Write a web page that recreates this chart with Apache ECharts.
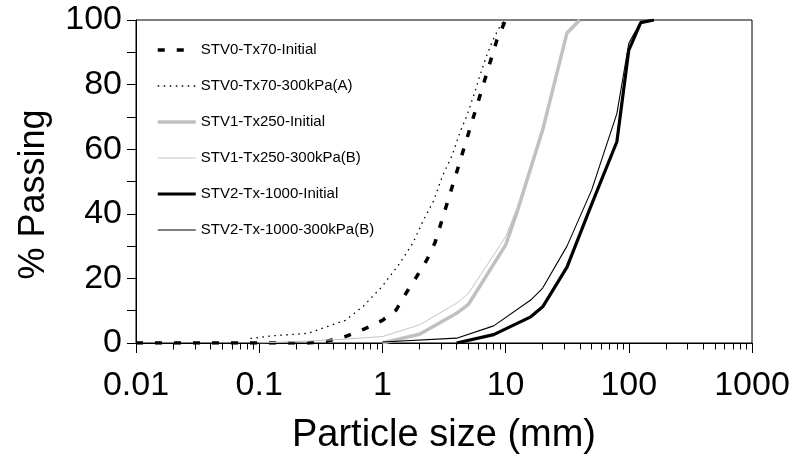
<!DOCTYPE html>
<html>
<head>
<meta charset="utf-8">
<script src="https://cdn.jsdelivr.net/npm/echarts@6/dist/echarts.min.js"></script>
<style>html,body{margin:0;padding:0;background:#fff}#c{width:793px;height:475px}</style>
</head>
<body>
<div id="c"></div>
<script>
// ---- data ----
const seriesNames = [
  'STV0-Tx70-Initial',
  'STV0-Tx70-300kPa(A)',
  'STV1-Tx250-Initial',
  'STV1-Tx250-300kPa(B)',
  'STV2-Tx-1000-Initial',
  'STV2-Tx-1000-300kPa(B)'
];
const stv0InitSize = [0.01, 0.25, 0.35, 0.5, 0.71, 1, 1.29, 1.56, 1.9, 2.3, 2.67, 3.4, 4, 4.65, 5.8, 7.46, 8.5, 10];
const stv0InitPass = [0, 0, 0.5, 2, 4.3, 7, 10.2, 15.5, 20.6, 25.8, 31, 44, 52.8, 61, 73, 86.7, 93.8, 100];

const stv0ASize = [0.085, 0.125, 0.25, 0.35, 0.5, 0.7, 1, 1.39, 1.77, 2.14, 2.58, 3.1, 3.67, 4.27, 4.86, 5.65, 6.2, 7.06, 7.9, 8.67, 9.7];
const stv0APass = [1.4, 2.2, 3.0, 5.0, 7.0, 11.4, 17.6, 24.8, 31, 37.8, 43.7, 52, 58, 65.3, 70.5, 77.9, 83, 89.2, 93.8, 96.9, 100];

const stv1InitSize = [1, 2, 4, 5, 10, 12.5, 20, 31.5, 40];
const stv1InitPass = [0, 2.7, 9.2, 12, 30.3, 41, 66, 96, 100];

const stv1BSize = [0.1, 0.25, 0.5, 1, 2, 4, 5, 10, 12.5, 20, 31.5, 40];
const stv1BPass = [0, 0.6, 1.2, 2, 5.6, 12.3, 15.4, 32.9, 42.2, 67, 96, 100];

const stv2InitSize = [4, 8, 16, 20, 31.5, 50, 80, 100, 125, 160];
const stv2InitPass = [0, 2.6, 8.1, 11.2, 23.5, 43, 62.3, 90.7, 99.2, 100];

const stv2BSize = [1, 4, 8, 16, 20, 31.5, 50, 80, 100, 125, 160];
const stv2BPass = [0.3, 1.5, 5.3, 13.3, 17, 30, 47.4, 71, 92.8, 99.5, 100];

const xTickLabels = [0.01, 0.1, 1, 10, 100, 1000];
const yTickLabels = [0, 20, 40, 60, 80, 100];
const minorMultipliers = [2, 3, 4, 5, 6, 7, 8, 9];
const minorDecades = [-2, -1, 0, 1, 2];

// ---- chart ----
const FONT = '"Liberation Sans", Arial, sans-serif';
function pairs(xs, ys) { return xs.map((x, i) => [x, ys[i]]); }
const minorTickValues = [];
minorDecades.forEach(d => minorMultipliers.forEach(m => minorTickValues.push(d + Math.log10(m))));

const chart = echarts.init(document.getElementById('c'), null, { renderer: 'canvas' });

function lineSeries(name, xs, ys, color, width, type) {
  return {
    name: name, type: 'line', xAxisIndex: 0, yAxisIndex: 0,
    data: pairs(xs, ys), symbol: 'none', showSymbol: false, smooth: false,
    lineStyle: { color: color, width: width, type: type, cap: 'butt' },
    itemStyle: { color: color },
    emphasis: { disabled: true }
  };
}

const option = {
  animation: false,
  backgroundColor: '#fff',
  grid: { left: 136, right: 41, top: 20, bottom: 132, show: true, borderColor: '#000', borderWidth: 1, backgroundColor: 'transparent' },
  legend: {
    orient: 'vertical', left: 156, top: 42.5, padding: 0,
    itemWidth: 38, itemHeight: 14, itemGap: 21,
    itemStyle: { opacity: 0 },
    lineStyle: { width: 'inherit' },
    textStyle: { fontFamily: FONT, fontSize: 15, color: '#000' },
    data: seriesNames
  },
  xAxis: [
    {
      type: 'log', logBase: 10, min: xTickLabels[0], max: xTickLabels[xTickLabels.length - 1],
      position: 'bottom',
      axisLine: { show: true, onZero: false, lineStyle: { color: '#000', width: 1 } },
      axisTick: { show: true, length: 10, lineStyle: { color: '#000', width: 1 } },
      axisLabel: { fontFamily: FONT, fontSize: 34, color: '#000', margin: 26,
        formatter: v => String(+(+v).toPrecision(6)) },
      splitLine: { show: false },
      name: 'Particle size (mm)', nameLocation: 'middle', nameGap: 74,
      nameTextStyle: { fontFamily: FONT, fontSize: 38, color: '#000' }
    },
    {
      type: 'value', min: -2, max: 3, position: 'bottom',
      axisLine: { show: false, onZero: false },
      axisTick: { show: true, length: 6.5, customValues: minorTickValues, lineStyle: { color: '#000', width: 1 } },
      axisLabel: { show: false },
      splitLine: { show: false }
    }
  ],
  yAxis: {
    type: 'value', min: yTickLabels[0], max: yTickLabels[yTickLabels.length - 1], interval: 20,
    axisLine: { show: true, onZero: false, lineStyle: { color: '#000', width: 1 } },
    axisTick: { show: true, length: 9, lineStyle: { color: '#000', width: 1 } },
    minorTick: { show: true, splitNumber: 2, length: 9, lineStyle: { color: '#000', width: 1 } },
    axisLabel: { fontFamily: FONT, fontSize: 34, color: '#000', margin: 14 },
    splitLine: { show: false },
    name: '% Passing', nameLocation: 'middle', nameGap: 84,
    nameTextStyle: { fontFamily: FONT, fontSize: 36, color: '#000', padding: [0, 26, 0, 0] }
  },
  series: [
    lineSeries(seriesNames[0], stv0InitSize, stv0InitPass, '#000', 3.5, [7, 12]),
    lineSeries(seriesNames[1], stv0ASize, stv0APass, '#000', 1.3, [1.5, 4.5]),
    lineSeries(seriesNames[2], stv1InitSize, stv1InitPass, '#c0c0c0', 3.5, 'solid'),
    lineSeries(seriesNames[3], stv1BSize, stv1BPass, '#c4c4c4', 1, 'solid'),
    lineSeries(seriesNames[4], stv2InitSize, stv2InitPass, '#000', 3.2, 'solid'),
    lineSeries(seriesNames[5], stv2BSize, stv2BPass, '#000', 1.1, 'solid')
  ]
};
chart.setOption(option);
</script>
</body>
</html>
